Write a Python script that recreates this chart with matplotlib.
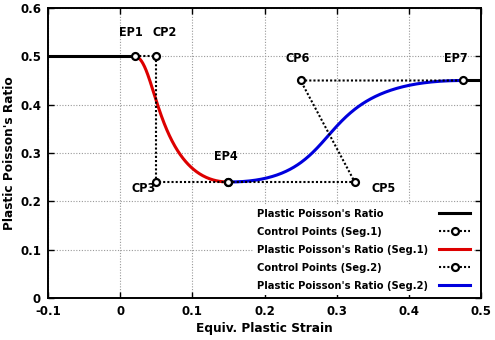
import numpy as np
import matplotlib
matplotlib.use("Agg")
import matplotlib.pyplot as plt
from matplotlib import font_manager as fm

# Control points
seg1_x = [0.02, 0.05, 0.05, 0.15]
seg1_y = [0.50, 0.50, 0.24, 0.24]
seg2_x = [0.15, 0.325, 0.25, 0.475]
seg2_y = [0.24, 0.24, 0.45, 0.45]
pt_labels = ["EP1", "CP2", "CP3", "EP4", "CP5", "CP6", "EP7"]
pt_x = [0.02, 0.05, 0.05, 0.15, 0.325, 0.25, 0.475]
pt_y = [0.50, 0.50, 0.24, 0.24, 0.24, 0.45, 0.45]
base_left_x = [-0.1, 0.02]
base_left_y = [0.5, 0.5]
base_right_x = [0.475, 0.5]
base_right_y = [0.45, 0.45]

def bezier(xs, ys, n=200):
    t = np.linspace(0, 1, n)
    b = [(1 - t) ** 3, 3 * (1 - t) ** 2 * t, 3 * (1 - t) * t ** 2, t ** 3]
    x = sum(bi * xi for bi, xi in zip(b, xs))
    y = sum(bi * yi for bi, yi in zip(b, ys))
    return x, y

plt.rcParams['font.family'] = ['DejaVu Sans']
plt.rcParams['font.weight'] = 'bold'

fig = plt.figure(figsize=(4.95, 3.4), dpi=100)
ax = fig.add_axes([48 / 495, 42 / 340, 433 / 495, 290 / 340])

ax.grid(True, color='#999999', linestyle=(0, (1, 1.5)), linewidth=0.8)
ax.set_axisbelow(True)

h0, = ax.plot(base_left_x, base_left_y, color='black', lw=2.2, label="Plastic Poisson's Ratio", zorder=3)
ax.plot(base_right_x, base_right_y, color='black', lw=2.2, zorder=3)

bx1, by1 = bezier(seg1_x, seg1_y)
bx2, by2 = bezier(seg2_x, seg2_y)

h1, = ax.plot(seg1_x, seg1_y, color='black', linestyle=(0, (1, 1)), lw=1.5, marker='o',
              mfc='white', mec='black', ms=5, mew=1.6, label="Control Points (Seg.1)", zorder=5)
h2, = ax.plot(bx1, by1, color='#dd0000', lw=2.2, label="Plastic Poisson's Ratio (Seg.1)", zorder=4)
h3, = ax.plot(seg2_x, seg2_y, color='black', linestyle=(0, (1, 1)), lw=1.5, marker='o',
              mfc='white', mec='black', ms=5, mew=1.6, label="Control Points (Seg.2)", zorder=5)
h4, = ax.plot(bx2, by2, color='#0000dd', lw=2.2, label="Plastic Poisson's Ratio (Seg.2)", zorder=4)

cond = dict(family='DejaVu Sans', stretch='condensed', weight='bold')

offsets = {"EP1": (-3, 17), "CP2": (6, 17), "CP3": (-9, -5), "EP4": (-2, 18),
           "CP5": (21, -5), "CP6": (-2, 16), "EP7": (-5, 16)}
for lab, x, y in zip(pt_labels, pt_x, pt_y):
    ax.annotate(lab, (x, y), xytext=offsets[lab], textcoords='offset points',
                ha='center', va='center', fontproperties=fm.FontProperties(size=9, **cond))

ax.set_xlim(-0.1, 0.5)
ax.set_ylim(0, 0.6)
ax.set_xticks([-0.1, 0, 0.1, 0.2, 0.3, 0.4, 0.5])
ax.set_xticklabels(['-0.1', '0', '0.1', '0.2', '0.3', '0.4', '0.5'])
ax.set_yticks([0, 0.1, 0.2, 0.3, 0.4, 0.5, 0.6])
ax.set_yticklabels(['0', '0.1', '0.2', '0.3', '0.4', '0.5', '0.6'])
ax.tick_params(direction='in', top=True, right=True, labelsize=8.5, width=1, length=4, pad=5)
for s in ax.spines.values():
    s.set_linewidth(1.4)

ax.set_xlabel("Equiv. Plastic Strain", fontproperties=fm.FontProperties(size=9.7, **cond), labelpad=3)
ax.set_ylabel("Plastic Poisson's Ratio", fontproperties=fm.FontProperties(size=9.7, **cond))
ax.yaxis.set_label_coords(-0.075, 0.5)

fs = 8.0
leg = ax.legend(handles=[h0, h1, h2, h3, h4], loc='lower right', bbox_to_anchor=(0.984, 0.012),
                markerfirst=False, frameon=True, prop=fm.FontProperties(size=fs, **cond),
                handlelength=2.8, borderaxespad=0, borderpad=0.35, labelspacing=0.72,
                handletextpad=1.0, fancybox=False)
leg.get_frame().set_edgecolor('none')
leg.get_frame().set_facecolor('white')
leg.get_frame().set_alpha(1)

# left-align legend labels while keeping handles right-aligned
fig.canvas.draw()
renderer = fig.canvas.get_renderer()
widths = [t.get_window_extent(renderer).width for t in leg.get_texts()]
maxw = max(widths)
rows = [r for col in leg._legend_handle_box.get_children() for r in col.get_children()]
for row, w in zip(rows, widths):
    row.sep = leg.handletextpad * fs + (maxw - w) * 72.0 / fig.dpi

fig.savefig("out.png", dpi=100)
